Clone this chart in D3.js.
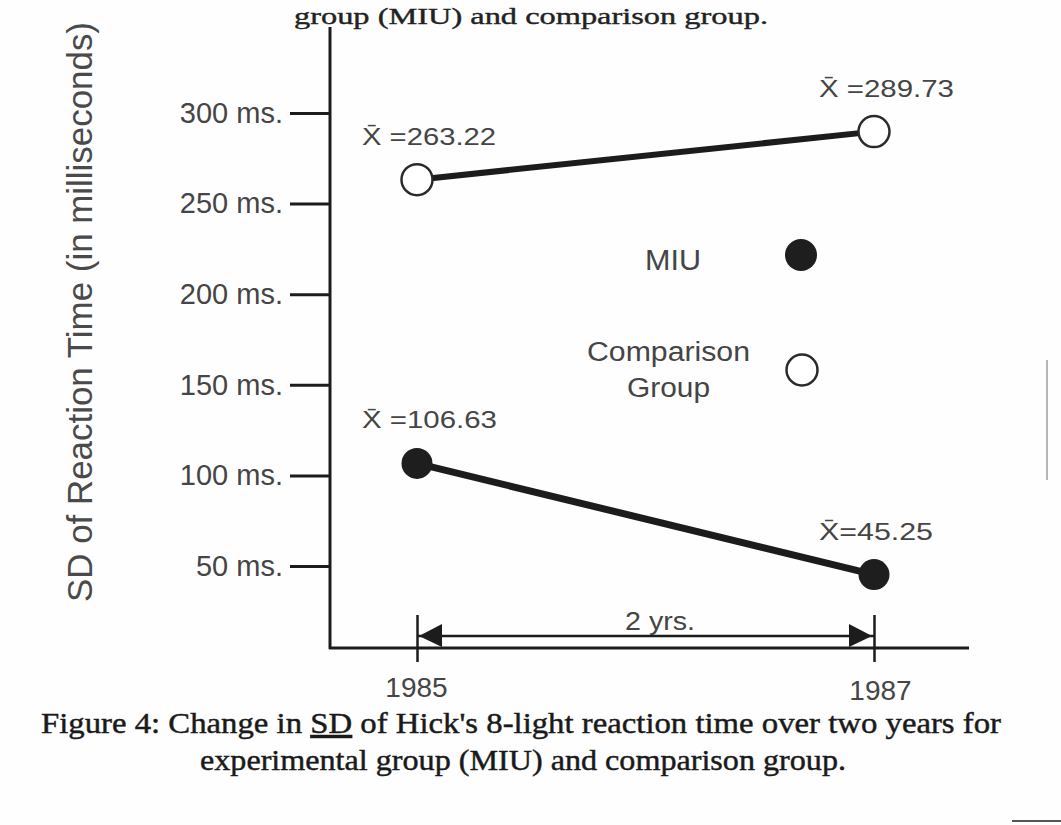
<!DOCTYPE html>
<html><head><meta charset="utf-8">
<script src="https://cdn.jsdelivr.net/npm/d3@7"></script>
<style>
html,body{margin:0;padding:0;background:#fff;}
svg{display:block;}
</style></head>
<body><svg id="chart" width="1061" height="825"></svg>
<script>
// ---- data ----
const years = [1985, 1987];
const comparisonValues = [263.22, 289.73];
const miuValues = [106.63, 45.25];
const yTickValues = [50, 100, 150, 200, 250, 300];
const yTickLabels = ["50 ms.", "100 ms.", "150 ms.", "200 ms.", "250 ms.", "300 ms."];
const comparisonLabels = ["X\u0304 =263.22", "X\u0304 =289.73"];
const miuLabels = ["X\u0304 =106.63", "X\u0304=45.25"];
const legendNames = ["MIU", "Comparison", "Group"];
const yAxisTitle = "SD of Reaction Time (in milliseconds)";
const spanLabel = "2 yrs.";
const captionTop = "group (MIU) and comparison group.";
const captionLine1 = ["Figure 4: Change in ", "SD", " of Hick's 8-light reaction time over two years for"];
const captionLine2 = "experimental group (MIU) and comparison group.";

// ---- setup ----
const svg = d3.select("#chart");
const SANS = "'Liberation Sans', Arial, Helvetica, sans-serif";
const SERIF = "'Liberation Serif', 'Times New Roman', serif";
const INK = "#1c1c1c";
const TXT = "#454545";

const x = d3.scaleLinear().domain([1985, 1987]).range([417, 874]);
const y = d3.scaleLinear().domain([50, 300]).range([566, 113]);

svg.append("rect").attr("width", 1061).attr("height", 825).attr("fill", "#fefefe");

// top caption remnant (from the preceding figure in the scan)
svg.append("text").attr("x", 294).attr("y", 24)
  .attr("font-family", SERIF).attr("font-size", 24).attr("fill", "#222")
  .attr("stroke", "#222").attr("stroke-width", 0.4)
  .attr("textLength", 474).attr("lengthAdjust", "spacingAndGlyphs")
  .text(captionTop);

// y axis title
svg.append("text")
  .attr("transform", "translate(92,312) rotate(-90)")
  .attr("text-anchor", "middle")
  .attr("font-family", SANS).attr("font-size", 35).attr("fill", "#4a4a4a")
  .attr("textLength", 580).attr("lengthAdjust", "spacingAndGlyphs")
  .text(yAxisTitle);

// y axis
svg.append("line").attr("x1", 330).attr("x2", 330).attr("y1", 27).attr("y2", 649)
  .attr("stroke", INK).attr("stroke-width", 3);
const yAxis = svg.append("g").attr("transform", "translate(330,0)")
  .call(d3.axisLeft(y).tickValues(yTickValues)
    .tickFormat((d, i) => yTickLabels[i]).tickSize(40).tickPadding(7));
yAxis.select(".domain").remove();
yAxis.selectAll(".tick line").attr("stroke", INK).attr("stroke-width", 3);
yAxis.selectAll(".tick text").attr("font-family", SANS).attr("font-size", 29)
  .attr("fill", TXT);

// x axis
svg.append("line").attr("x1", 329).attr("x2", 969).attr("y1", 648).attr("y2", 648)
  .attr("stroke", INK).attr("stroke-width", 3);
const xAxis = svg.append("g").attr("transform", "translate(0,648)")
  .call(d3.axisBottom(x).tickValues(years).tickFormat(d3.format("d"))
    .tickSize(14).tickPadding(15));
xAxis.select(".domain").remove();
xAxis.selectAll(".tick line").attr("y1", -33).attr("stroke", INK).attr("stroke-width", 2.5);
xAxis.selectAll(".tick text").attr("font-family", SANS).attr("font-size", 28)
  .attr("fill", TXT)
  .attr("dx", (d, i) => i === 0 ? -1 : 6)
  .attr("dy", (d, i) => i === 0 ? "0.71em" : "0.82em");

// 2 yrs dimension arrow
const arrowY = 636;
svg.append("line").attr("x1", x(years[0])).attr("x2", x(years[1]))
  .attr("y1", arrowY).attr("y2", arrowY).attr("stroke", INK).attr("stroke-width", 2.5);
const tri = (tipX, dir) => `M${tipX},${arrowY} L${tipX + dir * 23},${arrowY - 12} L${tipX + dir * 23},${arrowY + 11} Z`;
svg.append("path").attr("d", tri(x(years[0]) + 2, 1)).attr("fill", INK);
svg.append("path").attr("d", tri(x(years[1]) - 2, -1)).attr("fill", INK);
svg.append("text").attr("x", 625).attr("y", 630)
  .attr("font-family", SANS).attr("font-size", 25).attr("fill", TXT)
  .attr("textLength", 70).attr("lengthAdjust", "spacingAndGlyphs")
  .text(spanLabel);

// series lines
const line = d3.line().x((d, i) => x(years[i])).y(d => y(d));
svg.append("path").datum(comparisonValues).attr("d", line)
  .attr("fill", "none").attr("stroke", INK).attr("stroke-width", 6);
svg.append("path").datum(miuValues).attr("d", line)
  .attr("fill", "none").attr("stroke", INK).attr("stroke-width", 7);

// points
svg.selectAll(".cmp").data(comparisonValues).enter().append("circle")
  .attr("cx", (d, i) => x(years[i])).attr("cy", d => y(d)).attr("r", 15.5)
  .attr("fill", "#fff").attr("stroke", "#2a2a2a").attr("stroke-width", 2.5);
svg.selectAll(".miu").data(miuValues).enter().append("circle")
  .attr("cx", (d, i) => x(years[i])).attr("cy", d => y(d)).attr("r", 15.5)
  .attr("fill", "#1e1e1e");

// value labels
const labelW = { "X\u0304 =263.22": 134, "X\u0304 =289.73": 135, "X\u0304 =106.63": 135, "X\u0304=45.25": 114 };
function addLabels(vals, labels) {
  svg.selectAll(null).data(vals).enter().append("text")
    .attr("x", (d, i) => x(years[i]) - 55)
    .attr("y", (d, i) => y(d) - 35)
    .attr("font-family", SANS).attr("font-size", 24).attr("fill", TXT)
    .attr("textLength", (d, i) => labelW[labels[i]]).attr("lengthAdjust", "spacingAndGlyphs")
    .text((d, i) => labels[i]);
}
addLabels(comparisonValues, comparisonLabels);
addLabels(miuValues, miuLabels);

// legend
svg.append("text").attr("x", 645).attr("y", 270)
  .attr("font-family", SANS).attr("font-size", 29).attr("fill", TXT)
  .attr("textLength", 56).attr("lengthAdjust", "spacingAndGlyphs").text(legendNames[0]);
svg.append("circle").attr("cx", 801).attr("cy", 255).attr("r", 16).attr("fill", "#1e1e1e");
svg.append("text").attr("x", 587).attr("y", 361)
  .attr("font-family", SANS).attr("font-size", 27).attr("fill", TXT)
  .attr("textLength", 163).attr("lengthAdjust", "spacingAndGlyphs").text(legendNames[1]);
svg.append("text").attr("x", 627).attr("y", 397)
  .attr("font-family", SANS).attr("font-size", 27).attr("fill", TXT)
  .attr("textLength", 83).attr("lengthAdjust", "spacingAndGlyphs").text(legendNames[2]);
svg.append("circle").attr("cx", 802).attr("cy", 370).attr("r", 15.5)
  .attr("fill", "#fff").attr("stroke", "#2a2a2a").attr("stroke-width", 2.5);

// caption
const cap1 = svg.append("text").attr("x", 41).attr("y", 733)
  .attr("font-family", SERIF).attr("font-size", 30).attr("fill", "#1a1a1a")
  .attr("stroke", "#1a1a1a").attr("stroke-width", 0.45)
  .attr("textLength", 960).attr("lengthAdjust", "spacingAndGlyphs");
cap1.append("tspan").text(captionLine1[0]);
cap1.append("tspan").style("text-decoration", "underline").text(captionLine1[1]);
cap1.append("tspan").text(captionLine1[2]);
svg.append("text").attr("x", 200).attr("y", 770)
  .attr("font-family", SERIF).attr("font-size", 30).attr("fill", "#1a1a1a")
  .attr("stroke", "#1a1a1a").attr("stroke-width", 0.45)
  .attr("textLength", 646).attr("lengthAdjust", "spacingAndGlyphs")
  .text(captionLine2);

// scan edge marks
svg.append("line").attr("x1", 1047).attr("x2", 1047).attr("y1", 360).attr("y2", 480)
  .attr("stroke", "#999").attr("stroke-width", 2).attr("opacity", 0.7);
svg.append("line").attr("x1", 1012).attr("x2", 1061).attr("y1", 821).attr("y2", 821)
  .attr("stroke", "#555").attr("stroke-width", 2);
</script>
</body></html>
